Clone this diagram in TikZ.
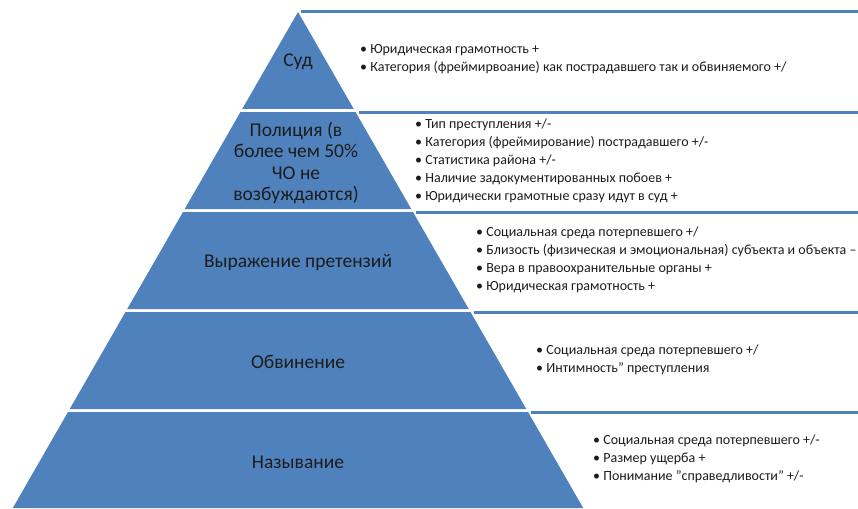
\documentclass[tikz,border=0pt]{standalone}
\usepackage{fontspec}
\setmainfont{Carlito}
\usetikzlibrary{positioning}
\definecolor{pyrblue}{HTML}{4F81BD}
\definecolor{pyrtext}{HTML}{1C1C1C}
\tikzset{
  band/.style={fill=pyrblue},
  topline/.style={draw=pyrblue, line width=3pt},
  level/.style={align=center, text=pyrtext, font=\fontsize{19.5}{21.5}\selectfont, inner sep=0pt},
  items/.style={align=left, anchor=north west, text=pyrtext, inner sep=0pt,
                font=\fontsize{14}{17.8}\selectfont},
}
\newcommand{\itm}{\textbullet\ }

\begin{document}
\begin{tikzpicture}[x=1pt, y=-1pt]
\useasboundingbox (0,0) rectangle (858,508);

% segments of the pyramid and their top rules
\foreach \t/\b in {12/109, 112/209, 212/309, 312/409, 412/508} {
  \pgfmathsetmacro\wt{0.575*(\t-12)}
  \pgfmathsetmacro\wb{0.575*(\b-12)}
  \fill[band] (298-\wt,\t) -- (298+\wt,\t) -- (298+\wb,\b) -- (298-\wb,\b) -- cycle;
  \draw[topline] (301+\wt,\t) -- (858,\t);
}

% level names
\node[level] (sud) at (298,62) {Суд};
\node[level] (police) at (296,163) {Полиция (в\\более чем 50\%\\ЧО не\\возбуждаются)};
\node[level] (claim) at (298,262) {Выражение претензий};
\node[level] (accuse) at (298,362) {Обвинение};
\node[level] (naming) at (298,462) {Называние};

% factors for each level
\node[items] (sudlist) at (360,44) {\itm Юридическая грамотность +\\
  \itm Категория (фреймирвоание) как пострадавшего так и обвиняемого +/};
\node[items] (policelist) at (415,119) {\itm Тип преступления +/-\\
  \itm Категория (фреймирование) пострадавшего +/-\\
  \itm Статистика района +/-\\
  \itm Наличие задокументированных побоев +\\
  \itm Юридически грамотные сразу идут в суд +};
\node[items] (claimlist) at (476,227) {\itm Социальная среда потерпевшего +/\\
  \itm Близость (физическая и эмоциональная) субъекта и объекта –\\
  \itm Вера в правоохранительные органы +\\
  \itm Юридическая грамотность +};
\node[items] (accuselist) at (536,345) {\itm Социальная среда потерпевшего +/\\
  \itm Интимность" преступления};
\node[items] (naminglist) at (593,435) {\itm Социальная среда потерпевшего +/-\\
  \itm Размер ущерба +\\
  \itm Понимание "справедливости" +/-};
\end{tikzpicture}
\end{document}
